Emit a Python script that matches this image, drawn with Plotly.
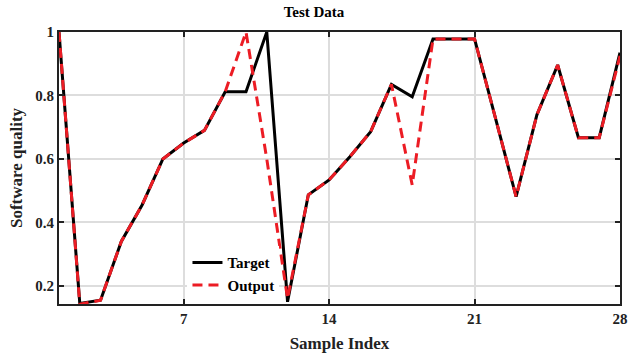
import plotly.graph_objects as go

sample_index = list(range(1, 29))
target = [1.0, 0.145, 0.155, 0.34, 0.455, 0.60, 0.65, 0.69, 0.812, 0.812,
          1.0, 0.15, 0.487, 0.534, 0.607, 0.686, 0.835, 0.796, 0.978, 0.978,
          0.978, 0.73, 0.481, 0.739, 0.896, 0.667, 0.667, 0.935]
output = [1.0, 0.142, 0.155, 0.34, 0.455, 0.60, 0.65, 0.69, 0.812, 1.0,
          0.60, 0.16, 0.487, 0.534, 0.607, 0.686, 0.835, 0.518, 0.978, 0.978,
          0.978, 0.73, 0.481, 0.739, 0.896, 0.667, 0.667, 0.925]
x_ticks = [7, 14, 21, 28]
y_ticks = [0.2, 0.4, 0.6, 0.8, 1.0]
y_tick_labels = ["0.2", "0.4", "0.6", "0.8", "1"]

font_family = "Liberation Serif, Times New Roman, serif"

fig = go.Figure()
fig.add_trace(go.Scatter(x=sample_index, y=target, mode="lines", name="<b>Target</b>",
                         line=dict(color="black", width=3)))
fig.add_trace(go.Scatter(x=sample_index, y=output, mode="lines", name="<b>Output</b>",
                         line=dict(color="#ec1c24", width=3, dash="10px,6px")))

axis_common = dict(showline=True, linecolor="#222222", linewidth=2, mirror="ticks",
                   ticks="inside", ticklen=5, tickwidth=2, tickcolor="#222222",
                   showgrid=True, gridcolor="#dddddd", gridwidth=2, zeroline=False,
                   automargin=False, ticklabeloverflow="allow",
                   tickfont=dict(family=font_family, size=15, color="#222222", weight="bold"))

fig.update_layout(
    width=628, height=356,
    margin=dict(l=59, r=8, t=32, b=52),
    paper_bgcolor="white", plot_bgcolor="white",
    title=dict(text="<b>Test Data</b>", x=0.5, xanchor="center", y=0.982, yanchor="top",
               font=dict(family=font_family, size=15, color="black")),
    xaxis=dict(range=[1, 28], tickvals=x_ticks,
               title=dict(text="<b>Sample Index</b>", standoff=11,
                          font=dict(family=font_family, size=17, color="#222222")),
               **axis_common),
    yaxis=dict(range=[0.143, 1.0], tickvals=y_ticks, ticktext=y_tick_labels,
               title=dict(text="<b>Software quality</b>", standoff=8,
                          font=dict(family=font_family, size=17, color="#222222")),
               **axis_common),
    legend=dict(x=0.229, y=0.01, xanchor="left", yanchor="bottom",
                bgcolor="white", borderwidth=0, tracegroupgap=0,
                font=dict(family=font_family, size=15, color="black")),
    showlegend=True,
)

fig.write_html(
    "out.html",
    config={"displayModeBar": False},
    post_script="document.body.style.margin='0';document.body.style.overflow='hidden';",
)
